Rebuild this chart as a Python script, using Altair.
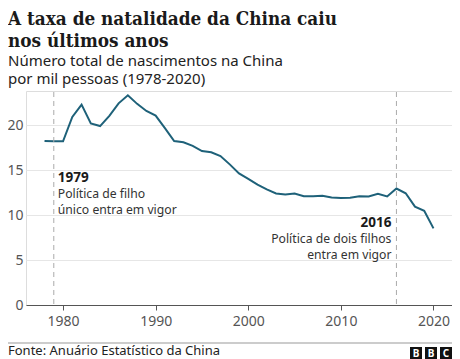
import altair as alt
import pandas as pd

# ---- data ----
years = list(range(1978, 2021))
birth_rate = [18.25, 18.2, 18.21, 20.91, 22.28, 20.19, 19.90, 21.04, 22.43, 23.33,
              22.37, 21.58, 21.06, 19.68, 18.24, 18.09, 17.70, 17.12, 16.98, 16.57,
              15.64, 14.64, 14.03, 13.38, 12.86, 12.41, 12.29, 12.40, 12.09, 12.10,
              12.14, 11.95, 11.90, 11.93, 12.10, 12.08, 12.37, 12.07, 12.95, 12.43,
              10.94, 10.48, 8.52]
x_ticks = [1980, 1990, 2000, 2010, 2020]
y_ticks = [0, 5, 10, 15, 20]
policy_years = [1979, 2016]
policy_labels = ["1979", "2016"]
policy_line1 = ["Política de filho", "Política de dois filhos"]
policy_line2 = ["único entra em vigor", "entra em vigor"]
title_lines = ["A taxa de natalidade da China caiu", "nos últimos anos"]
subtitle_lines = ["Número total de nascimentos na China", "por mil pessoas (1978-2020)"]
source_text = "Fonte: Anuário Estatístico da China"
logo_letters = ["B", "B", "C"]

SANS = "Noto Sans"
LINE = "#1e6179"

df = pd.DataFrame({"ano": years, "taxa": birth_rate})
ann = pd.DataFrame({"ano": policy_years, "rotulo": policy_labels,
                    "l1": policy_line1, "l2": policy_line2})
foot = pd.DataFrame({"t": [source_text]})

x_scale = alt.Scale(domain=[1976, 2022], nice=False, zero=False)
y_scale = alt.Scale(domain=[0, 23.8], nice=False)

line = alt.Chart(df).mark_line(color=LINE, strokeWidth=2).encode(
    x=alt.X("ano:Q", scale=x_scale,
            axis=alt.Axis(values=x_ticks, format="d", title=None, grid=False,
                          domain=True, domainColor="#555", domainWidth=1,
                          ticks=True, tickSize=5, tickColor="#555",
                          labelFont=SANS, labelFontSize=14, labelColor="#555",
                          labelPadding=4)),
    y=alt.Y("taxa:Q", scale=y_scale,
            axis=alt.Axis(values=y_ticks, title=None, grid=True, gridColor="#e6e6e6",
                          domain=False, ticks=False, labelFont=SANS, labelFontSize=14,
                          labelColor="#555", labelPadding=3)),
)

rules = alt.Chart(ann).mark_rule(color="#aaa", strokeDash=[5, 4], strokeWidth=1).encode(
    x=alt.X("ano:Q", scale=x_scale), y=alt.value(1), y2=alt.value(214)
)


def ann_text(year, field, align, dx, ypix, size, weight, color):
    return alt.Chart(ann).transform_filter(alt.datum.ano == year).mark_text(
        align=align, baseline="alphabetic", dx=dx, font=SANS, fontSize=size,
        fontWeight=weight, color=color
    ).encode(x=alt.X("ano:Q", scale=x_scale), y=alt.value(ypix), text=f"{field}:N")


# pixel offsets below the plot top (page y - 91)
ann_layers = [
    ann_text(1979, "rotulo", "left", 4, 91, 13.5, "bold", "#1a1a1a"),
    ann_text(1979, "l1", "left", 4, 107, 12.2, "normal", "#333"),
    ann_text(1979, "l2", "left", 4, 122.5, 12.2, "normal", "#333"),
    ann_text(2016, "rotulo", "right", -5, 136, 13.5, "bold", "#1a1a1a"),
    ann_text(2016, "l1", "right", -5, 152, 12.2, "normal", "#333"),
    ann_text(2016, "l2", "right", -5, 167.5, 12.2, "normal", "#333"),
]

foot_rule = alt.Chart(foot).mark_rule(color="#999", strokeWidth=1).encode(
    x=alt.value(-18), x2=alt.value(426), y=alt.value(252)
)
foot_text = alt.Chart(foot).mark_text(
    align="left", baseline="alphabetic", font=SANS, fontSize=13, color="#222"
).encode(x=alt.value(-18), y=alt.value(264), text="t:N")

logo_layers = []
for i, letter in enumerate(logo_letters):
    x0 = 384 + i * 15
    logo_layers.append(
        alt.Chart(foot).mark_rect(color="#111").encode(
            x=alt.value(x0), x2=alt.value(x0 + 12), y=alt.value(256), y2=alt.value(268))
    )
    logo_layers.append(
        alt.Chart(foot).mark_text(color="white", font=SANS, fontSize=10, fontWeight="bold",
                                  align="center", baseline="middle").encode(
            x=alt.value(x0 + 6), y=alt.value(262.5), text=alt.value(letter))
    )

chart = alt.layer(line, rules, *ann_layers,
                  foot_rule, foot_text, *logo_layers).properties(
    width=426, height=214,
    autosize=alt.AutoSizeParams(type="none"),
    padding={"left": 18, "top": 83, "right": 0, "bottom": 54},
    title=alt.Title(text=title_lines, subtitle=subtitle_lines, anchor="start",
                    frame="group", dx=-18, offset=4,
                    font="DejaVu Serif Condensed, DejaVu Serif", fontSize=18.8,
                    fontWeight="bold", color="#1a1a1a", lineHeight=22,
                    subtitleFont=SANS, subtitleFontSize=15, subtitleColor="#222",
                    subtitleLineHeight=18, subtitlePadding=3),
).configure_view(stroke=None).configure(background="white")

chart.save("out.html", embed_options={"renderer": "svg", "actions": False})
